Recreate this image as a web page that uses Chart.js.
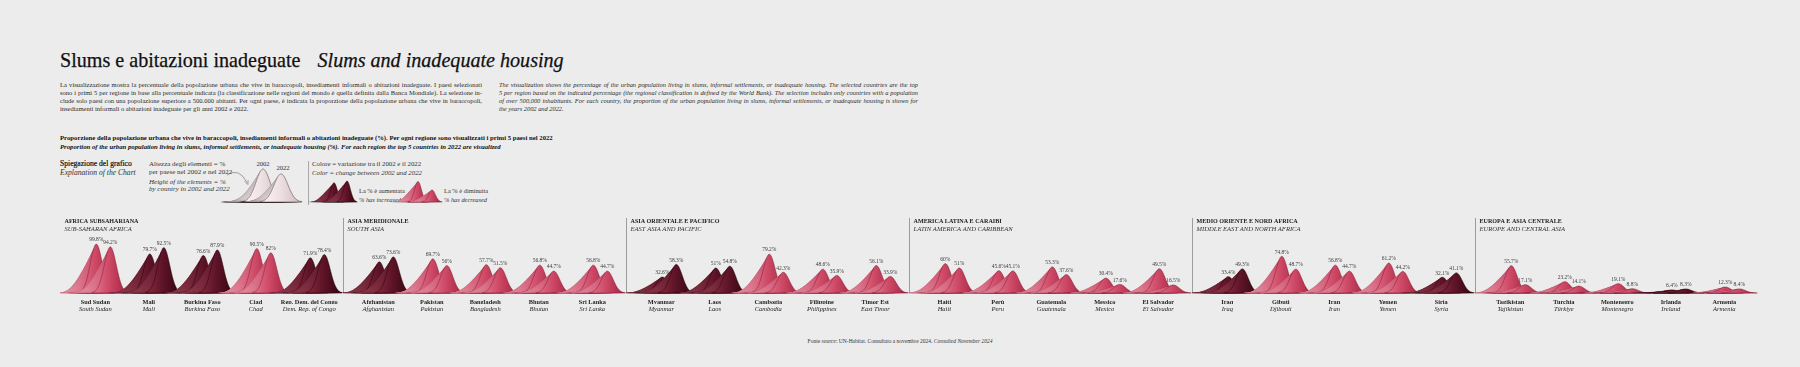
<!DOCTYPE html>
<html lang="it">
<head>
<meta charset="utf-8">
<title>Slums e abitazioni inadeguate</title>
<script src="https://cdn.jsdelivr.net/npm/chart.js@4.4.1/dist/chart.umd.min.js"></script>
<style>
  html, body { margin:0; padding:0; }
  body { width:1800px; height:367px; background:#ececec; position:relative; overflow:hidden;
         font-family:"Liberation Serif","Times New Roman",serif; color:#1e1e1e; }
  .t { position:absolute; white-space:nowrap; line-height:1; transform:translateY(-50%); }
  .para { position:absolute; color:#2a2a2a; }
  .para div { text-align:justify; text-align-last:justify; line-height:8px; height:8px; }
  .para div.last { text-align-last:left; }
  canvas { position:absolute; }
</style>
</head>
<body>

<div class="t" id="title" style="left:60px;top:60px;font-size:21px;color:#111;-webkit-text-stroke:0.25px #111;"><span id="titleIT">Slums e abitazioni inadeguate</span><span style="display:inline-block;width:17px"></span><i id="titleEN">Slums and inadequate housing</i></div>

<div class="para" id="paraIT" style="left:60px;top:81px;">
  <div>La visualizzazione mostra la percentuale della popolazione urbana che vive in baraccopoli, insediamenti informali o abitazioni inadeguate. I paesi selezionati</div>
  <div>sono i primi 5 per regione in base alla percentuale indicata (la classificazione nelle regioni del mondo è quella definita dalla Banca Mondiale). La selezione in-</div>
  <div>clude solo paesi con una popolazione superiore a 500.000 abitanti. Per ogni paese, è indicata la proporzione della popolazione urbana che vive in baraccopoli,</div>
  <div class="last">insediamenti informali o abitazioni inadeguate per gli anni 2002 e 2022.</div>
</div>
<div class="para" id="paraEN" style="left:499px;top:81px;font-style:italic;">
  <div>The visualization shows the percentage of the urban population living in slums, informal settlements, or inadequate housing. The selected countries are the top</div>
  <div>5 per region based on the indicated percentage (the regional classification is defined by the World Bank). The selection includes only countries with a population</div>
  <div>of over 500,000 inhabitants. For each country, the proportion of the urban population living in slums, informal settlements, or inadequate housing is shown for</div>
  <div class="last">the years 2002 and 2022.</div>
</div>

<div class="t" id="subIT" style="left:60px;top:138px;font-weight:bold;color:#111;">Proporzione della popolazione urbana che vive in baraccopoli, insediamenti informali o abitazioni inadeguate (%). Per ogni regione sono visualizzati i primi 5 paesi nel 2022</div>
<div class="t" id="subEN" style="left:60px;top:147px;font-weight:bold;font-style:italic;color:#111;">Proportion of the urban population living in slums, informal settlements, or inadequate housing (%). For each region the top 5 countries in 2022 are visualized</div>

<div class="t" style="left:60px;top:164px;font-size:7.6px;color:#111;-webkit-text-stroke:0.2px #111;">Spiegazione del grafico</div>
<div class="t" style="left:60px;top:173px;font-size:7.6px;font-style:italic;color:#333;">Explanation of the Chart</div>

<div class="t" style="left:149px;top:164px;font-size:7px;color:#333;">Altezza degli elementi = %</div>
<div class="t" style="left:149px;top:171.5px;font-size:7px;color:#333;">per paese nel 2002 e nel 2022</div>
<div class="t" style="left:149px;top:181.5px;font-size:7px;font-style:italic;color:#333;">Height of the elements = %</div>
<div class="t" style="left:149px;top:189px;font-size:7px;font-style:italic;color:#333;">by country in 2002 and 2022</div>

<div class="t" style="left:263px;top:164px;font-size:6.6px;color:#333;transform:translate(-50%,-50%);">2002</div>
<div class="t" style="left:283px;top:168px;font-size:6.6px;color:#333;transform:translate(-50%,-50%);">2022</div>

<svg style="position:absolute;left:222px;top:164px;" width="36" height="26" viewBox="0 0 36 26">
  <path d="M 5 11 Q 17 3 25 18.5" stroke="#666" stroke-width="0.6" fill="none"/>
  <path d="M 22.7 17.4 L 25.9 20.6 L 26.1 16.2" stroke="#666" stroke-width="0.6" fill="none"/>
</svg>

<div style="position:absolute;left:308px;top:161px;width:1px;height:44px;background:#a8a8a8;"></div>

<div class="t" style="left:312px;top:164px;font-size:6.8px;color:#333;">Colore = variazione tra il 2002 e il 2022</div>
<div class="t" style="left:312px;top:172.5px;font-size:6.8px;font-style:italic;color:#333;">Color = change between 2002 and 2022</div>

<div class="t" style="left:359px;top:191px;font-size:6.4px;color:#333;">La % è aumentata</div>
<div class="t" style="left:359px;top:200px;font-size:6.4px;font-style:italic;color:#333;">% has increased</div>
<div class="t" style="left:444px;top:191px;font-size:6.4px;color:#333;">La % è diminuita</div>
<div class="t" style="left:444px;top:200px;font-size:6.4px;font-style:italic;color:#333;">% has decreased</div>

<canvas id="explain" width="120" height="56" style="left:200px;top:148px;"></canvas>
<canvas id="legUp" width="60" height="30" style="left:304px;top:174px;"></canvas>
<canvas id="legDown" width="60" height="30" style="left:388px;top:174px;"></canvas>

<canvas id="main" width="1800" height="125" style="left:0;top:205px;"></canvas>

<div class="t" style="left:900px;top:342px;font-size:5.5px;color:#333;transform:translate(-50%,-50%);">Fonte <i>source</i>: UN-Habitat. Consultato a novembre 2024. <i>Consulted November 2024</i></div>

<script>
// ---------------- DATA ----------------
const regionsIT = ["AFRICA SUBSAHARIANA", "ASIA MERIDIONALE", "ASIA ORIENTALE E PACIFICO", "AMERICA LATINA E CARAIBI", "MEDIO ORIENTE E NORD AFRICA", "EUROPA E ASIA CENTRALE"];
const regionsEN = ["SUB-SAHARAN AFRICA", "SOUTH ASIA", "EAST ASIA AND PACIFIC", "LATIN AMERICA AND CARIBBEAN", "MIDDLE EAST AND NORTH AFRICA", "EUROPE AND CENTRAL ASIA"];
const countriesIT = ["Sud Sudan", "Mali", "Burkina Faso", "Ciad", "Rep. Dem. del Congo",
  "Afghanistan", "Pakistan", "Bangladesh", "Bhutan", "Sri Lanka",
  "Myanmar", "Laos", "Cambogia", "Filippine", "Timor Est",
  "Haiti", "Perù", "Guatemala", "Messico", "El Salvador",
  "Iraq", "Gibuti", "Iran", "Yemen", "Siria",
  "Tagikistan", "Turchia", "Montenegro", "Irlanda", "Armenia"];
const countriesEN = ["South Sudan", "Mali", "Burkina Faso", "Chad", "Dem. Rep. of Congo",
  "Afghanistan", "Pakistan", "Bangladesh", "Bhutan", "Sri Lanka",
  "Myanmar", "Laos", "Cambodia", "Philippines", "East Timor",
  "Haiti", "Peru", "Guatemala", "Mexico", "El Salvador",
  "Iraq", "Djibouti", "Iran", "Yemen", "Syria",
  "Tajikistan", "Türkiye", "Montenegro", "Ireland", "Armenia"];
const values2002 = [99.8, 79.7, 76.6, 90.5, 71.9,
  63.6, 69.7, 57.7, 56.8, 56.8,
  32.6, 51, 79.2, 48.6, 56.1,
  60, 45.6, 53.3, 30.4, 49.5,
  33.4, 74.8, 56.8, 61.2, 32.1,
  55.7, 23.2, 19.1, 6.4, 12.3];
const values2022 = [94.2, 92.5, 87.9, 82, 78.4,
  73.6, 56, 51.5, 44.7, 44.7,
  58.3, 54.8, 42.3, 35.9, 33.9,
  51, 45.1, 37.6, 17.6, 16.5,
  49.3, 48.7, 44.7, 44.2, 41.1,
  17.1, 14.1, 8.8, 8.3, 8.4];
// illustrative values for the explanation / colour legend glyphs
const exampleHeight2002 = [100];
const exampleHeight2022 = [85];
const exampleUp2002 = [43];
const exampleUp2022 = [47];
const exampleDown2002 = [46];
const exampleDown2022 = [27];

// ---------------- TEXT FITTING ----------------
const mctx = document.createElement('canvas').getContext('2d');
function textW(str, style, size) { mctx.font = style + ' ' + size + 'px "Liberation Serif"'; return mctx.measureText(str).width; }
function fitPara(id, W, style) {
  const el = document.getElementById(id);
  let maxw = 0;
  [...el.children].forEach(l => { if (!l.classList.contains('last')) maxw = Math.max(maxw, textW(l.textContent.trim(), style, 10)); });
  el.style.fontSize = (10 * W / maxw * 0.985) + 'px';
  el.style.width = W + 'px';
}
fitPara('paraIT', 422, 'normal');
fitPara('paraEN', 419, 'italic');
(function () {
  const a = textW(document.getElementById('titleIT').textContent, 'normal', 10);
  const b = textW(document.getElementById('titleEN').textContent, 'italic', 10);
  document.getElementById('title').style.fontSize = (10 * (504 - 17) / (a + b)) + 'px';
  const s = textW(document.getElementById('subIT').textContent, 'bold', 10);
  const fs = 10 * 493 / s;
  document.getElementById('subIT').style.fontSize = fs + 'px';
  document.getElementById('subEN').style.fontSize = fs + 'px';
})();

// ---------------- MOUNTAIN GLYPHS ----------------
const PAL = {
  up:      {fl:'#7e2438', fm:'#5e1428', fr:'#3c0814', sl:'#9e4a5e', sm:'#843343', sr:'#651b2d', edge:'rgba(30,2,10,0.85)', line:'rgba(30,2,10,0.25)'},
  down:    {fl:'#de6a84', fm:'#cd4966', fr:'#ad2c49', sl:'#eea6b5', sm:'#e28398', sr:'#cf617a', edge:'rgba(120,20,45,0.8)', line:'rgba(120,20,45,0.22)'},
  neutral: {fl:'#f8f0f1', fm:'#eee1e3', fr:'#d8c3c7', sl:'#faf4f5', sm:'#f2e7e9', sr:'#e4d3d6', edge:'rgba(60,40,45,0.8)', line:'rgba(60,40,45,0.45)'}
};
function hx(c) { return [parseInt(c.slice(1,3),16), parseInt(c.slice(3,5),16), parseInt(c.slice(5,7),16)]; }
function mix(a, b, t) { const A = hx(a), B = hx(b); return 'rgb(' + A.map((v,i) => Math.round(v + (B[i]-v)*t)).join(',') + ')'; }

function drawMountain(ctx, px, base, top, pal, o) {
  const h = base - top;
  if (h <= 0) return;
  const N = o.slices, s = o.sigma;
  for (let k = N; k >= 0; k--) {
    const t = k / N;
    const cx = px - t * o.L;
    const hh = h * Math.pow(1 - t, o.k);
    if (hh < 0.25) continue;
    const x0 = cx - 3 * s, x1 = cx + 3 * s;
    ctx.beginPath();
    ctx.moveTo(x0, base);
    for (let x = x0; x <= x1 + 0.01; x += 0.5) {
      const d = (x - cx) / s;
      ctx.lineTo(x, base - hh * Math.exp(-0.5 * d * d));
    }
    ctx.lineTo(x1, base);
    ctx.closePath();
    const tt = Math.pow(t, 0.6);
    const g = ctx.createLinearGradient(cx - 2.2 * s, 0, cx + 2.2 * s, 0);
    g.addColorStop(0, mix(pal.fl, pal.sl, tt));
    g.addColorStop(0.45, mix(pal.fm, pal.sm, tt));
    g.addColorStop(1, mix(pal.fr, pal.sr, tt));
    ctx.fillStyle = g;
    ctx.fill();
    ctx.lineWidth = k === 0 ? 0.6 : 0.35;
    ctx.strokeStyle = k === 0 ? pal.edge : pal.line;
    ctx.stroke();
  }
}

const mountainPlugin = {
  id: 'mountains',
  afterDatasetsDraw(chart, args, o) {
    const ctx = chart.ctx;
    const m02 = chart.getDatasetMeta(0), m22 = chart.getDatasetMeta(1);
    const d02 = chart.data.datasets[0].data, d22 = chart.data.datasets[1].data;
    const base = chart.scales.y.getPixelForValue(0);
    const xs = chart.scales.x;
    const labels = [];
    for (let i = 0; i < d02.length; i++) {
      const pal = PAL[o.palette === 'auto' ? (d22[i].y > d02[i].y ? 'up' : 'down') : o.palette];
      ctx.save();
      if (o.clipRegions) {
        const r = Math.floor(i / o.perRegion);
        const a = xs.getPixelForValue(r * o.regionSize), b = xs.getPixelForValue((r + 1) * o.regionSize);
        ctx.beginPath(); ctx.rect(a, 0, b - a, base + 1); ctx.clip();
      }
      const x02 = m02.data[i].x + o.off02, x22 = m22.data[i].x + o.off22;
      drawMountain(ctx, x02, base, m02.data[i].y, pal, o);
      drawMountain(ctx, x22, base, m22.data[i].y, pal, o);
      ctx.restore();
      if (o.labels) {
        labels.push([x02, m02.data[i].y, d02[i].y]);
        labels.push([x22, m22.data[i].y, d22[i].y]);
      }
    }
    ctx.save();
    ctx.font = '5.5px "Liberation Serif"';
    ctx.fillStyle = '#3a3a3a';
    ctx.textAlign = 'center';
    ctx.textBaseline = 'alphabetic';
    labels.forEach(l => ctx.fillText(l[2] + '%', l[0], l[1] - 2.7));
    ctx.restore();
  }
};

const regionPlugin = {
  id: 'regions',
  beforeDatasetsDraw(chart, args, o) {
    const ctx = chart.ctx, xs = chart.scales.x;
    const base = chart.scales.y.getPixelForValue(0);
    ctx.save();
    regionsIT.forEach((name, r) => {
      const x = xs.getPixelForValue(r * o.regionSize);
      if (r > 0) {
        ctx.strokeStyle = '#9c9c9c'; ctx.lineWidth = 1;
        ctx.beginPath(); ctx.moveTo(Math.round(x) + 0.5, 13); ctx.lineTo(Math.round(x) + 0.5, base); ctx.stroke();
      }
      ctx.fillStyle = '#1a1a1a';
      ctx.textAlign = 'left'; ctx.textBaseline = 'middle';
      ctx.font = 'bold 6.1px "Liberation Serif"';
      ctx.fillText(name, x + 4.5, 16);
      ctx.fillStyle = '#333';
      ctx.font = 'italic 6.6px "Liberation Serif"';
      ctx.fillText(regionsEN[r], x + 4.5, 24);
    });
    ctx.restore();
  }
};

// ---------------- MAIN CHART ----------------
const REGION = 5.29;   // region width in country-spacing units
const INSET = 0.66;    // first country offset inside a region
const PER = 5;
const positions = countriesIT.map((_, i) => Math.floor(i / PER) * REGION + INSET + (i % PER));

function tickAxis(names, weight, font, padding, height) {
  return {
    type: 'linear', min: 0, max: 6 * REGION, position: 'bottom', weight: weight,
    grid: { display: false, drawTicks: false }, border: { display: false },
    afterBuildTicks: ax => { ax.ticks = positions.map(v => ({ value: v })); },
    afterFit: ax => { ax.height = height; },
    ticks: { autoSkip: false, maxRotation: 0, minRotation: 0, padding: padding, color: '#1e1e1e',
             font: font, callback: (v, i) => names[i] }
  };
}

new Chart(document.getElementById('main'), {
  type: 'scatter',
  data: { datasets: [
    { label: '2002', data: values2002.map((v, i) => ({ x: positions[i], y: v })), pointRadius: 0, showLine: false },
    { label: '2022', data: values2022.map((v, i) => ({ x: positions[i], y: v })), pointRadius: 0, showLine: false }
  ]},
  options: {
    responsive: false, animation: false, devicePixelRatio: 1, events: [],
    layout: { padding: { left: 60, right: 42, top: 10, bottom: 17 } },
    plugins: {
      legend: { display: false }, tooltip: { enabled: false },
      mountains: { palette: 'auto', sigma: 6, L: 26, k: 1.2, slices: 16, off02: 1, off22: 15,
                   labels: true, clipRegions: true, regionSize: REGION, perRegion: PER },
      regions: { regionSize: REGION }
    },
    scales: {
      x: tickAxis(countriesIT, 0, { family: 'Liberation Serif', size: 6.3, weight: 'bold' }, 5.2, 11),
      x2: tickAxis(countriesEN, 1, { family: 'Liberation Serif', size: 6.5, style: 'italic' }, 1.6, 9),
      y: { display: false, min: 0, max: 159.2 }
    }
  },
  plugins: [regionPlugin, mountainPlugin]
});

// ---------------- LEGEND GLYPHS ----------------
function glyphChart(id, v02, v22, yMax, palette, geom) {
  new Chart(document.getElementById(id), {
    type: 'scatter',
    data: { datasets: [
      { data: v02.map(v => ({ x: 0.5, y: v })), pointRadius: 0 },
      { data: v22.map(v => ({ x: 0.5, y: v })), pointRadius: 0 }
    ]},
    options: {
      responsive: false, animation: false, devicePixelRatio: 1, events: [],
      layout: { padding: { bottom: 2 } },
      plugins: { legend: { display: false }, tooltip: { enabled: false },
        mountains: Object.assign({ palette: palette, labels: false, clipRegions: false }, geom) },
      scales: { x: { display: false, min: 0, max: 1 }, y: { display: false, min: 0, max: yMax } }
    },
    plugins: [mountainPlugin]
  });
}
glyphChart('explain', exampleHeight2002, exampleHeight2022, 163.6, 'neutral',
  { sigma: 7, L: 22, k: 1.2, slices: 24, off02: 3, off22: 21 });
glyphChart('legUp', exampleUp2002, exampleUp2022, 62.7, 'up',
  { sigma: 3.4, L: 17, k: 1.0, slices: 12, off02: 0, off22: 13 });
glyphChart('legDown', exampleDown2002, exampleDown2022, 62.7, 'down',
  { sigma: 3.4, L: 17, k: 1.0, slices: 12, off02: 0, off22: 14 });
</script>
</body>
</html>
